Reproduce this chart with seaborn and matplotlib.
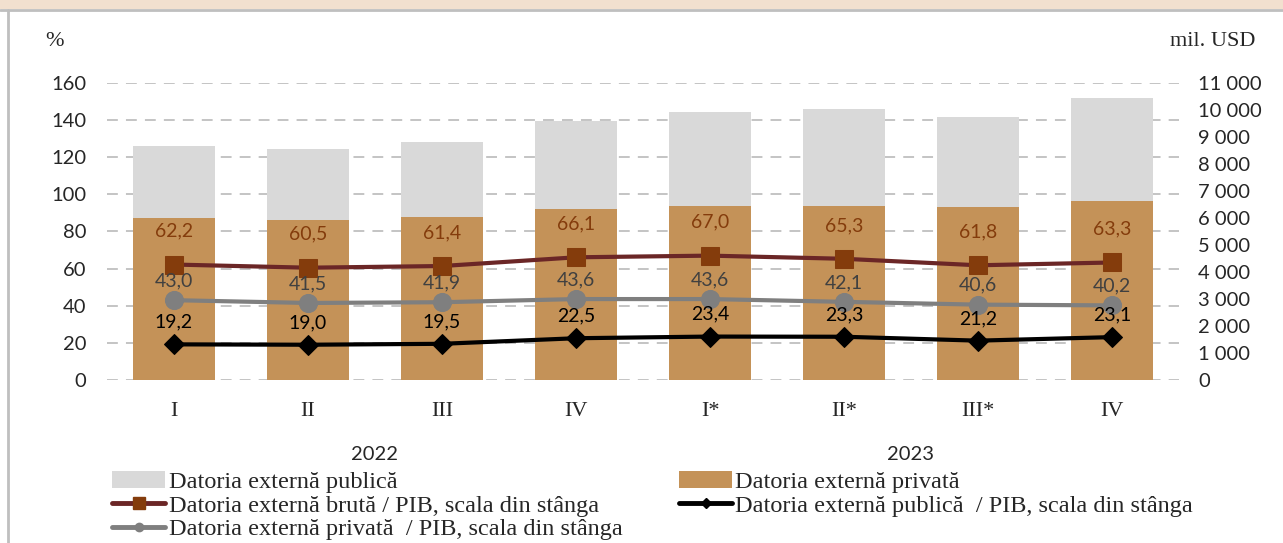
import matplotlib
matplotlib.use("Agg")
import matplotlib.pyplot as plt
from matplotlib.lines import Line2D
from matplotlib.patches import Patch, Rectangle
import seaborn as sns
import numpy as np

# ---------------- data ----------------
periods = ["2022-I", "2022-II", "2022-III", "2022-IV", "2023-I", "2023-II", "2023-III", "2023-IV"]
quarters = ["I", "II", "III", "IV", "I*", "II*", "III*", "IV"]
years = ["2022", "2023"]
total_debt = [8680, 8570, 8830, 9580, 9940, 10050, 9750, 10450]      # mil. USD (public + private)
private_debt = [6010, 5930, 6040, 6330, 6450, 6450, 6410, 6640]      # mil. USD
gross_gdp = [62.2, 60.5, 61.4, 66.1, 67.0, 65.3, 61.8, 63.3]         # %
private_gdp = [43.0, 41.5, 41.9, 43.6, 43.6, 42.1, 40.6, 40.2]       # %
public_gdp = [19.2, 19.0, 19.5, 22.5, 23.4, 23.3, 21.2, 23.1]        # %
left_ticks = [0, 20, 40, 60, 80, 100, 120, 140, 160]
right_ticks = [0, 1000, 2000, 3000, 4000, 5000, 6000, 7000, 8000, 9000, 10000, 11000]
legend_labels = ["Datoria externă publică", "Datoria externă privată",
                 "Datoria externă brută / PIB, scala din stânga",
                 "Datoria externă publică  / PIB, scala din stânga",
                 "Datoria externă privată  / PIB, scala din stânga"]

# ---------------- style ----------------
C_PUB = "#D9D9D9"
C_PRIV = "#C49258"
C_GROSS_LINE = "#6B2626"
C_GROSS_MK = "#843C0C"
C_PRIV_LINE = "#7F7F7F"
C_PUB_LINE = "#000000"
SANS = ["Lato", "DejaVu Sans"]
SERIF = ["Liberation Serif", "DejaVu Serif"]

sns.set_theme(style="white")
plt.rcParams["font.family"] = SANS

fig = plt.figure(figsize=(12.83, 5.43), dpi=100)
W, H = 1283, 543

# header strip and frame
fig.patches.append(Rectangle((0, 1 - 9 / H), 1, 9 / H, transform=fig.transFigure,
                             facecolor="#F2E0CF", edgecolor="none", zorder=0))
fig.add_artist(Line2D([0, 1], [1 - 10 / H, 1 - 10 / H], transform=fig.transFigure,
                      color="#BFBFBF", lw=2))
fig.add_artist(Line2D([8 / W, 8 / W], [0, 1 - 10 / H], transform=fig.transFigure,
                      color="#BFBFBF", lw=2))

left, right, bottom, top = 107 / W, 1179 / W, 1 - 380 / H, 1 - 83 / H
ax = fig.add_axes([left, bottom, right - left, top - bottom])
ax2 = ax.twinx()   # bars, right scale
ax3 = ax.twinx()   # lines, left scale

# bars
sns.barplot(x=periods, y=total_debt, ax=ax2, color=C_PUB, width=0.61, linewidth=0, saturation=1)
sns.barplot(x=periods, y=private_debt, ax=ax2, color=C_PRIV, width=0.61, linewidth=0, saturation=1)
ax2.set_ylim(0, 11000)
ax2.set_yticks(right_ticks)
ax2.set_yticklabels([f"{v:,}".replace(",", " ") for v in right_ticks], fontsize=14.5)
ax2.tick_params(axis="y", length=0, pad=14)

# lines
sns.lineplot(x=periods, y=gross_gdp, ax=ax3, color=C_GROSS_LINE, lw=3, marker="s",
             markersize=13.5, markerfacecolor=C_GROSS_MK, markeredgecolor=C_GROSS_MK, sort=False)
sns.lineplot(x=periods, y=private_gdp, ax=ax3, color=C_PRIV_LINE, lw=3, marker="o",
             markersize=13, markerfacecolor=C_PRIV_LINE, markeredgecolor=C_PRIV_LINE, sort=False)
sns.lineplot(x=periods, y=public_gdp, ax=ax3, color=C_PUB_LINE, lw=3, marker="D",
             markersize=10, markerfacecolor=C_PUB_LINE, markeredgecolor=C_PUB_LINE, sort=False)
ax3.set_ylim(0, 160)
ax3.set_yticks([])
ax3.set_ylabel("")

xs = ax3.lines[0].get_xdata()
for x, g, p, q in zip(xs, gross_gdp, private_gdp, public_gdp):
    ax3.annotate(f"{g:.1f}".replace(".", ","), (x, g), xytext=(0, 24), textcoords="offset points",
                 ha="center", va="center", fontsize=14, color=C_GROSS_MK)
    ax3.annotate(f"{p:.1f}".replace(".", ","), (x, p), xytext=(0, 14), textcoords="offset points",
                 ha="center", va="center", fontsize=14, color="#404040")
    ax3.annotate(f"{q:.1f}".replace(".", ","), (x, q), xytext=(0, 16), textcoords="offset points",
                 ha="center", va="center", fontsize=14, color="black")

# left axis with grid
ax.set_ylim(0, 160)
ax.set_yticks(left_ticks)
ax.set_yticklabels([str(v) for v in left_ticks], fontsize=14.5)
ax.tick_params(axis="y", length=0, pad=15)
ax.grid(axis="y", color="#BFBFBF", lw=1.3, linestyle=(0, (6, 4.5)))
ax.grid(axis="x", visible=False)
ax.set_xlim(-0.5, len(periods) - 0.5)
ax.set_xticks(range(len(periods)))
ax.set_xticklabels(quarters, fontsize=16, family=SERIF)
ax.tick_params(axis="x", length=0, pad=16)
ax.set_xlim(-0.5, len(periods) - 0.5)
for a in (ax, ax2, ax3):
    for s in a.spines.values():
        s.set_visible(False)
    a.set_ylabel("")
    a.set_xlabel("")

# year labels
ax.text(1.5, -0.25, years[0], transform=ax.get_xaxis_transform(), ha="center", va="center", fontsize=14.5)
ax.text(5.5, -0.25, years[1], transform=ax.get_xaxis_transform(), ha="center", va="center", fontsize=14.5)

# units
fig.text(45 / W, 1 - 41 / H, "%", ha="left", va="center", fontsize=16, family=SERIF)
fig.text(1255 / W, 1 - 41 / H, "mil. USD", ha="right", va="center", fontsize=16, family=SERIF)

# legend
handles = [
    Patch(facecolor=C_PUB, edgecolor="none"),
    Line2D([], [], color=C_GROSS_LINE, lw=3.5, marker="s", markersize=8,
           markerfacecolor=C_GROSS_MK, markeredgecolor=C_GROSS_MK),
    Line2D([], [], color=C_PRIV_LINE, lw=3.5, marker="o", markersize=6,
           markerfacecolor=C_PRIV_LINE, markeredgecolor=C_PRIV_LINE),
    Patch(facecolor=C_PRIV, edgecolor="none"),
    Line2D([], [], color=C_PUB_LINE, lw=3.5, marker="D", markersize=5,
           markerfacecolor=C_PUB_LINE, markeredgecolor=C_PUB_LINE),
]
labels = [legend_labels[0], legend_labels[2], legend_labels[4], legend_labels[1], legend_labels[3]]
fig.legend(handles, labels, loc="upper left", bbox_to_anchor=(112 / W, 1 - 471 / H), ncol=2,
           frameon=False, prop={"family": SERIF, "size": 17.5}, handlelength=2.2,
           handletextpad=0.13, columnspacing=2.32, labelspacing=0.07, borderaxespad=0, borderpad=0)

fig.savefig("out.png", dpi=100)
